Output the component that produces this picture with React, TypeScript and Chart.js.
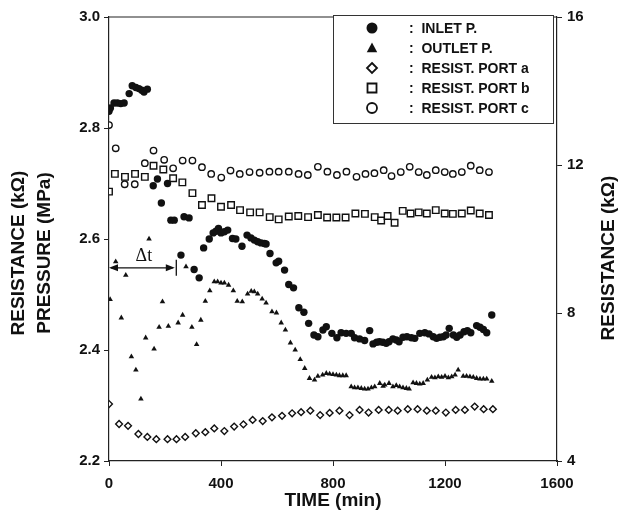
import React, { useEffect, useRef } from 'react';
import { Chart, registerables } from 'chart.js';

Chart.register(...registerables);

// ---- Data (time in min, pressure in MPa, resistance in kOhm) ----
const inletTime = [0, 5, 18, 30, 42, 54, 72, 83, 96, 107, 117, 125, 137, 158, 173, 187, 209, 221, 233, 257, 268, 286, 304, 322, 338, 358, 372, 382, 391, 400, 412, 424, 441, 453, 475, 493, 507, 519, 531, 543, 555, 561, 575, 597, 606, 627, 642, 659, 678, 696, 713, 732, 746, 764, 776, 796, 814, 829, 847, 865, 877, 895, 913, 931, 943, 956, 966, 978, 990, 1000, 1014, 1026, 1036, 1050, 1064, 1080, 1092, 1110, 1128, 1143, 1158, 1170, 1182, 1194, 1204, 1215, 1230, 1242, 1254, 1268, 1280, 1292, 1313, 1325, 1337, 1349, 1367];
const inletP = [2.83, 2.836, 2.845, 2.845, 2.844, 2.845, 2.862, 2.876, 2.873, 2.871, 2.868, 2.865, 2.87, 2.696, 2.708, 2.665, 2.7, 2.634, 2.634, 2.571, 2.64, 2.638, 2.545, 2.53, 2.584, 2.6, 2.611, 2.614, 2.619, 2.611, 2.613, 2.616, 2.601, 2.6, 2.587, 2.607, 2.602, 2.598, 2.595, 2.593, 2.592, 2.591, 2.574, 2.557, 2.56, 2.544, 2.518, 2.512, 2.476, 2.468, 2.448, 2.427, 2.424, 2.436, 2.442, 2.43, 2.422, 2.431, 2.43, 2.43, 2.422, 2.42, 2.417, 2.435, 2.411, 2.414, 2.415, 2.414, 2.412, 2.415, 2.42, 2.418, 2.415, 2.423, 2.424, 2.422, 2.421, 2.43, 2.431, 2.429, 2.424, 2.421, 2.423, 2.424, 2.427, 2.439, 2.427, 2.423, 2.427, 2.433, 2.435, 2.431, 2.444, 2.441, 2.437, 2.431, 2.463];

const outletTime = [4, 24, 44, 60, 80, 96, 114, 131, 143, 161, 179, 191, 212, 247, 263, 275, 296, 313, 328, 344, 360, 376, 388, 400, 412, 427, 444, 458, 476, 495, 508, 519, 531, 547, 561, 582, 598, 615, 630, 648, 665, 683, 699, 716, 734, 746, 763, 776, 788, 800, 812, 823, 835, 847, 865, 877, 889, 901, 913, 925, 937, 949, 967, 979, 985, 1000, 1014, 1026, 1038, 1050, 1062, 1072, 1086, 1098, 1110, 1122, 1137, 1152, 1164, 1176, 1188, 1200, 1212, 1224, 1236, 1247, 1265, 1277, 1289, 1301, 1313, 1325, 1337, 1349, 1367];
const outletP = [2.491, 2.559, 2.458, 2.535, 2.388, 2.364, 2.312, 2.422, 2.6, 2.402, 2.441, 2.487, 2.443, 2.449, 2.463, 2.55, 2.441, 2.41, 2.454, 2.488, 2.507, 2.523, 2.523, 2.521, 2.521, 2.517, 2.507, 2.488, 2.487, 2.501, 2.506, 2.505, 2.501, 2.492, 2.485, 2.469, 2.467, 2.449, 2.436, 2.413, 2.4, 2.383, 2.367, 2.349, 2.346, 2.353, 2.355, 2.358, 2.357, 2.356, 2.355, 2.354, 2.354, 2.354, 2.334, 2.332, 2.332, 2.331, 2.33, 2.33, 2.332, 2.334, 2.34, 2.335, 2.337, 2.34, 2.334, 2.336, 2.334, 2.332, 2.331, 2.33, 2.341, 2.34, 2.339, 2.34, 2.346, 2.351, 2.35, 2.352, 2.351, 2.353, 2.35, 2.352, 2.355, 2.364, 2.353, 2.353, 2.352, 2.351, 2.349, 2.348, 2.348, 2.348, 2.344];

const portATime = [0, 36, 68, 105, 137, 169, 209, 241, 272, 310, 344, 376, 412, 447, 480, 513, 549, 582, 618, 654, 686, 719, 754, 788, 823, 859, 895, 927, 963, 999, 1031, 1067, 1102, 1135, 1167, 1203, 1238, 1271, 1306, 1338, 1371];
const portAR = [5.54, 5.0, 4.95, 4.73, 4.65, 4.59, 4.59, 4.59, 4.65, 4.75, 4.78, 4.88, 4.81, 4.93, 4.99, 5.11, 5.08, 5.18, 5.22, 5.29, 5.32, 5.36, 5.24, 5.3, 5.36, 5.24, 5.38, 5.31, 5.38, 5.38, 5.36, 5.4, 5.4, 5.36, 5.36, 5.31, 5.38, 5.38, 5.47, 5.4, 5.4];

const portBTime = [0, 21, 57, 93, 128, 159, 194, 229, 262, 298, 332, 366, 400, 436, 468, 504, 538, 574, 606, 642, 676, 711, 746, 779, 812, 845, 880, 914, 949, 972, 995, 1020, 1049, 1077, 1106, 1135, 1167, 1199, 1228, 1260, 1292, 1324, 1357];
const portBR = [11.28, 11.76, 11.68, 11.76, 11.68, 11.98, 11.88, 11.64, 11.53, 11.24, 10.92, 11.1, 10.87, 10.92, 10.78, 10.72, 10.72, 10.59, 10.53, 10.61, 10.62, 10.59, 10.65, 10.58, 10.58, 10.58, 10.69, 10.68, 10.59, 10.5, 10.62, 10.44, 10.76, 10.69, 10.72, 10.69, 10.78, 10.69, 10.68, 10.69, 10.77, 10.69, 10.65];

const portCTime = [0, 24, 56, 92, 128, 159, 197, 229, 263, 298, 332, 365, 401, 434, 467, 502, 538, 573, 606, 642, 677, 710, 746, 780, 814, 848, 884, 916, 948, 981, 1009, 1042, 1074, 1106, 1135, 1167, 1199, 1228, 1260, 1292, 1324, 1357];
const portCR = [13.08, 12.45, 11.48, 11.48, 12.05, 12.39, 12.14, 11.91, 12.12, 12.12, 11.94, 11.76, 11.66, 11.85, 11.76, 11.81, 11.79, 11.82, 11.82, 11.82, 11.76, 11.73, 11.95, 11.82, 11.73, 11.82, 11.68, 11.76, 11.78, 11.86, 11.7, 11.81, 11.95, 11.81, 11.73, 11.86, 11.81, 11.76, 11.81, 11.98, 11.86, 11.81];

const legendLabels = ['INLET P.', 'OUTLET P.', 'RESIST. PORT a', 'RESIST. PORT b', 'RESIST. PORT c'];
const timeTicks = [0, 400, 800, 1200, 1600];
const pressureTicks = [2.2, 2.4, 2.6, 2.8, 3.0];
const resistanceTicks = [4, 8, 12, 16];
const deltaStart = 0;
const deltaEnd = 235;
const deltaP = 2.548;

const FONT = "'Liberation Sans', Arial, sans-serif";
const INK = '#111';

function pts(xs: number[], ys: number[]) {
  return xs.map((x, i) => ({ x, y: ys[i] }));
}

function drawMarker(ctx: CanvasRenderingContext2D, kind: string, x: number, y: number, r: number) {
  ctx.beginPath();
  if (kind === 'circleFill' || kind === 'circle') {
    ctx.arc(x, y, r, 0, Math.PI * 2);
  } else if (kind === 'triangle') {
    ctx.moveTo(x, y - r);
    ctx.lineTo(x + r * 0.95, y + r * 0.75);
    ctx.lineTo(x - r * 0.95, y + r * 0.75);
    ctx.closePath();
  } else if (kind === 'diamond') {
    ctx.moveTo(x, y - r);
    ctx.lineTo(x + r, y);
    ctx.lineTo(x, y + r);
    ctx.lineTo(x - r, y);
    ctx.closePath();
  } else if (kind === 'square') {
    ctx.rect(x - r, y - r, 2 * r, 2 * r);
  }
  if (kind === 'circleFill' || kind === 'triangle') {
    ctx.fillStyle = INK;
    ctx.fill();
  } else {
    ctx.fillStyle = '#fff';
    ctx.fill();
    ctx.lineWidth = 1.8;
    ctx.strokeStyle = INK;
    ctx.stroke();
  }
}

const decorPlugin = {
  id: 'decor',
  afterDraw(chart: any) {
    const ctx: CanvasRenderingContext2D = chart.ctx;
    const ca = chart.chartArea;
    const xs = chart.scales.x;
    const ys = chart.scales.y;
    ctx.save();
    // top frame line
    ctx.strokeStyle = '#222';
    ctx.lineWidth = 1.2;
    ctx.beginPath();
    ctx.moveTo(ca.left, ca.top);
    ctx.lineTo(ca.right, ca.top);
    ctx.stroke();

    // legend box
    const bx = 333, by = 15, bw = 220, bh = 108;
    ctx.fillStyle = '#fff';
    ctx.fillRect(bx, by, bw, bh);
    ctx.strokeStyle = '#333';
    ctx.lineWidth = 1;
    ctx.strokeRect(bx + 0.5, by + 0.5, bw, bh);
    const kinds = ['circleFill', 'triangle', 'diamond', 'square', 'circle'];
    const rs = [5.5, 5.5, 5, 4.5, 5];
    ctx.font = `bold 14px ${FONT}`;
    ctx.textBaseline = 'middle';
    ctx.textAlign = 'left';
    for (let i = 0; i < legendLabels.length; i++) {
      const yy = 28 + i * 20;
      drawMarker(ctx, kinds[i], 372, yy, rs[i]);
      ctx.fillStyle = INK;
      ctx.fillText(':  ' + legendLabels[i], 409, yy + 1);
    }

    // delta t annotation
    const x0 = xs.getPixelForValue(deltaStart);
    const x1 = xs.getPixelForValue(deltaEnd);
    const y0 = ys.getPixelForValue(deltaP);
    ctx.strokeStyle = INK;
    ctx.fillStyle = INK;
    ctx.lineWidth = 1.3;
    ctx.beginPath();
    ctx.moveTo(x0 + 2, y0);
    ctx.lineTo(x1 - 2, y0);
    ctx.stroke();
    ctx.beginPath();
    ctx.moveTo(x0, y0);
    ctx.lineTo(x0 + 9, y0 - 3.5);
    ctx.lineTo(x0 + 9, y0 + 3.5);
    ctx.closePath();
    ctx.fill();
    ctx.beginPath();
    ctx.moveTo(x1, y0);
    ctx.lineTo(x1 - 9, y0 - 3.5);
    ctx.lineTo(x1 - 9, y0 + 3.5);
    ctx.closePath();
    ctx.fill();
    ctx.beginPath();
    ctx.moveTo(x1 + 1.5, y0 - 8);
    ctx.lineTo(x1 + 1.5, y0 + 8);
    ctx.stroke();
    ctx.font = `18px 'Liberation Serif', 'DejaVu Serif', serif`;
    ctx.textAlign = 'center';
    ctx.textBaseline = 'alphabetic';
    ctx.fillText('\u0394t', (x0 + x1) / 2 + 2, y0 - 7);

    // axis titles
    ctx.fillStyle = INK;
    ctx.font = `bold 19px ${FONT}`;
    ctx.textAlign = 'center';
    ctx.textBaseline = 'middle';
    const rot = (text: string, x: number, y: number) => {
      ctx.save();
      ctx.translate(x, y);
      ctx.rotate(-Math.PI / 2);
      ctx.fillText(text, 0, 0);
      ctx.restore();
    };
    rot('RESISTANCE (k\u03A9)', 19, 253);
    rot('PRESSURE (MPa)', 45, 253);
    rot('RESISTANCE (k\u03A9)', 609, 258);
    ctx.fillText('TIME (min)', 333, 501);
    ctx.restore();
  },
};

export default function App() {
  const ref = useRef<HTMLCanvasElement | null>(null);
  useEffect(() => {
    if (!ref.current) return;
    const tickFont = { family: FONT, size: 15, weight: 'bold' as const };
    const chart = new Chart(ref.current, {
      type: 'scatter',
      data: {
        datasets: [
          {
            label: legendLabels[0],
            data: pts(inletTime, inletP),
            yAxisID: 'y',
            pointStyle: 'circle',
            pointRadius: 3.7,
            backgroundColor: INK,
            borderColor: INK,
            borderWidth: 0,
          },
          {
            label: legendLabels[1],
            data: pts(outletTime, outletP),
            yAxisID: 'y',
            pointStyle: 'triangle',
            pointRadius: 3.2,
            backgroundColor: INK,
            borderColor: INK,
            borderWidth: 0,
          },
          {
            label: legendLabels[2],
            data: pts(portATime, portAR),
            yAxisID: 'y2',
            pointStyle: 'rectRot',
            pointRadius: 3.4,
            backgroundColor: '#fff',
            borderColor: INK,
            borderWidth: 1.4,
          },
          {
            label: legendLabels[3],
            data: pts(portBTime, portBR),
            yAxisID: 'y2',
            pointStyle: 'rect',
            pointRadius: 4.6,
            backgroundColor: '#fff',
            borderColor: INK,
            borderWidth: 1.4,
          },
          {
            label: legendLabels[4],
            data: pts(portCTime, portCR),
            yAxisID: 'y2',
            pointStyle: 'circle',
            pointRadius: 3.2,
            backgroundColor: '#fff',
            borderColor: INK,
            borderWidth: 1.4,
          },
        ],
      },
      options: {
        responsive: false,
        animation: false,
        layout: { padding: { top: 17, left: 0, right: 0, bottom: 0 } },
        plugins: { legend: { display: false }, tooltip: { enabled: false }, title: { display: false } },
        scales: {
          x: {
            type: 'linear',
            position: 'bottom',
            min: 0,
            max: 1600,
            afterFit: (s: any) => { s.height = 53; },
            afterBuildTicks: (s: any) => { s.ticks = timeTicks.map((v) => ({ value: v })); },
            ticks: { font: tickFont, color: INK, padding: 9, maxRotation: 0, callback: (v: any) => String(v) },
            grid: { drawOnChartArea: false, drawTicks: true, tickLength: 5, color: '#222' },
            border: { display: true, color: '#222', width: 1.2 },
          },
          y: {
            type: 'linear',
            position: 'left',
            min: 2.2,
            max: 3.0,
            afterFit: (s: any) => { s.width = 109; },
            afterBuildTicks: (s: any) => { s.ticks = pressureTicks.map((v) => ({ value: v })); },
            ticks: { font: tickFont, color: INK, padding: 4, callback: (v: any) => Number(v).toFixed(1) },
            grid: { drawOnChartArea: false, drawTicks: true, tickLength: 5, color: '#222' },
            border: { display: true, color: '#222', width: 1.2 },
          },
          y2: {
            type: 'linear',
            position: 'right',
            min: 4,
            max: 16,
            afterFit: (s: any) => { s.width = 74; },
            afterBuildTicks: (s: any) => { s.ticks = resistanceTicks.map((v) => ({ value: v })); },
            ticks: { font: tickFont, color: INK, padding: 5, callback: (v: any) => String(v) },
            grid: { drawOnChartArea: false, drawTicks: true, tickLength: 5, color: '#222' },
            border: { display: true, color: '#222', width: 1.2 },
          },
        },
      },
      plugins: [decorPlugin],
    });
    return () => chart.destroy();
  }, []);
  return (
    <div style={{ position: 'fixed', left: 0, top: 0, width: 631, height: 514, background: '#fff' }}>
      <canvas ref={ref} width={631} height={514} style={{ width: 631, height: 514, display: 'block' }} />
    </div>
  );
}
